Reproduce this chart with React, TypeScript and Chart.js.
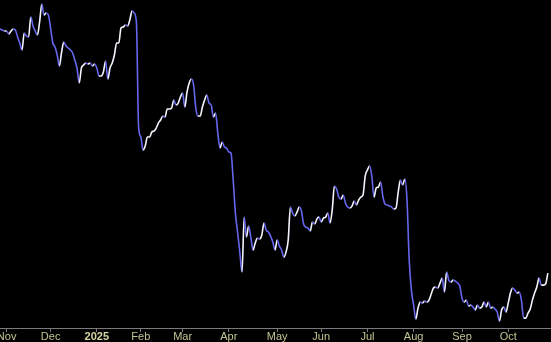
import React, { useEffect, useRef } from "react";
import { Chart, registerables } from "chart.js";

Chart.register(...registerables);

// Daily closes, one per trading session (session 0 = late Oct 2024)
const closes: number[] = [
  57.1, 57.0, 56.9, 56.9, 56.6, 56.9, 57.1, 57.0, 56.3, 55.7,
  55.0, 56.7, 56.4, 56.3, 58.3, 57.4, 56.9, 56.5, 57.8, 59.6,
  58.5, 58.7, 58.5, 57.2, 55.7, 55.3, 54.5, 53.4, 54.8, 55.8,
  55.4, 55.2, 55.0, 54.7, 54.0, 53.2, 51.7, 53.2, 53.5, 53.7,
  53.6, 53.7, 53.4, 53.6, 53.2, 52.4, 52.4, 52.8, 53.9, 52.1,
  53.2, 53.7, 54.5, 55.7, 55.7, 57.2, 57.3, 57.5, 57.4, 58.0,
  58.9, 58.7, 57.8, 47.3, 46.3, 45.0, 45.4, 46.3, 46.3, 46.8,
  46.9, 47.2, 47.7, 48.0, 48.4, 48.3, 49.1, 49.1, 49.2, 50.0,
  49.5, 49.7, 50.3, 50.7, 49.3, 50.8, 51.7, 52.1, 51.5, 49.2,
  48.4, 48.4, 49.3, 50.0, 50.5, 49.7, 49.5, 48.3, 48.7, 46.7,
  45.2, 45.8, 45.3, 45.2, 44.8, 44.7, 42.0, 38.7, 36.8, 34.8,
  32.8, 38.3, 36.3, 37.4, 36.3, 35.0, 35.7, 36.2, 36.1, 36.5,
  37.7, 37.0, 36.8, 36.4, 35.8, 35.0, 36.0, 35.4, 35.0, 34.3,
  34.8, 36.0, 39.3, 38.7, 38.4, 38.8, 39.3, 38.9, 37.6, 37.3,
  37.2, 36.9, 37.8, 37.6, 38.1, 38.3, 37.8, 38.2, 38.3, 38.7,
  37.7, 39.0, 41.4, 41.1, 40.3, 40.1, 40.5, 39.7, 39.3, 39.2,
  39.4, 39.9, 39.5, 40.0, 40.3, 40.5, 42.4, 43.0, 43.4, 42.4,
  40.3, 41.2, 41.3, 41.8, 40.4, 39.6, 39.5, 39.4, 39.3, 39.1,
  39.2, 40.8, 42.0, 41.5, 42.1, 40.0, 34.0, 31.0, 29.5, 28.1,
  29.2, 29.8, 29.7, 29.9, 29.8, 30.0, 30.6, 31.2, 31.3, 31.2,
  31.7, 32.2, 30.8, 32.8, 32.0, 31.8, 32.0, 31.9, 31.7, 31.4,
  30.2, 29.8, 30.0, 29.4, 29.5, 29.3, 29.0, 29.5, 29.2, 29.3,
  29.8, 29.3, 29.8, 29.2, 29.3, 29.1, 28.8, 27.9, 29.0, 29.3,
  28.8, 29.7, 30.7, 31.2, 31.0, 30.7, 30.8, 30.0, 28.2, 28.2,
  28.7, 29.1, 30.0, 30.7, 31.3, 32.2, 31.5, 31.5, 31.6, 32.7,
];

// First trading session of each month, and its label
const monthSessions: number[] = [3, 23, 44, 64, 83, 104, 126, 146, 167, 188, 210, 231];
const monthLabels: string[] = ["Nov", "Dec", "2025", "Feb", "Mar", "Apr", "May", "Jun", "Jul", "Aug", "Sep", "Oct"];

const X_MIN = 0;
const X_MAX = 250.45;
const Y_MIN = 27.2;
const Y_MAX = 60;

const UP_COLOR = "#f4f4ff";
const DOWN_COLOR = "#6666ee";

export default function App() {
  const canvasRef = useRef<HTMLCanvasElement | null>(null);

  useEffect(() => {
    const canvas = canvasRef.current;
    if (!canvas) return;
    const chart = new Chart(canvas, {
      type: "line",
      data: {
        datasets: [
          {
            data: closes.map((v, i) => ({ x: i, y: v })),
            borderWidth: 1.6,
            pointRadius: 0,
            pointHoverRadius: 0,
            cubicInterpolationMode: "monotone",
            borderColor: UP_COLOR,
            segment: {
              borderColor: (ctx: any) =>
                ctx.p1.parsed.y >= ctx.p0.parsed.y ? UP_COLOR : DOWN_COLOR,
            },
          },
        ],
      },
      options: {
        animation: false,
        responsive: true,
        maintainAspectRatio: false,
        layout: { padding: 0 },
        plugins: {
          legend: { display: false },
          tooltip: { enabled: false },
        },
        scales: {
          x: {
            type: "linear",
            min: X_MIN,
            max: X_MAX,
            afterBuildTicks: (scale: any) => {
              scale.ticks = monthSessions.map((v) => ({ value: v }));
            },
            afterFit: (scale: any) => {
              scale.paddingLeft = 0;
              scale.paddingRight = 0;
            },
            grid: {
              display: true,
              drawOnChartArea: false,
              drawTicks: true,
              tickLength: 4,
              color: "#7a7a7a",
            },
            border: { display: true, color: "#7a7a7a", width: 1 },
            ticks: {
              autoSkip: false,
              maxRotation: 0,
              minRotation: 0,
              padding: 0,
              callback: (_v: any, i: number) => monthLabels[i],
              color: (ctx: any) =>
                ctx.index === 2 ? "#d4d4a4" : "#c4c494",
              font: (ctx: any) => ({
                family: "'Liberation Sans', Arial, sans-serif",
                size: 11,
                lineHeight: 0.9,
                weight: ctx.index === 2 ? "bold" : "normal",
              }),
            },
          },
          y: {
            display: false,
            min: Y_MIN,
            max: Y_MAX,
          },
        },
      },
    });
    return () => chart.destroy();
  }, []);

  return (
    <div
      style={{
        position: "fixed",
        left: 0,
        top: 0,
        width: 551,
        height: 342,
        background: "#000",
      }}
    >
      <canvas ref={canvasRef} />
    </div>
  );
}
